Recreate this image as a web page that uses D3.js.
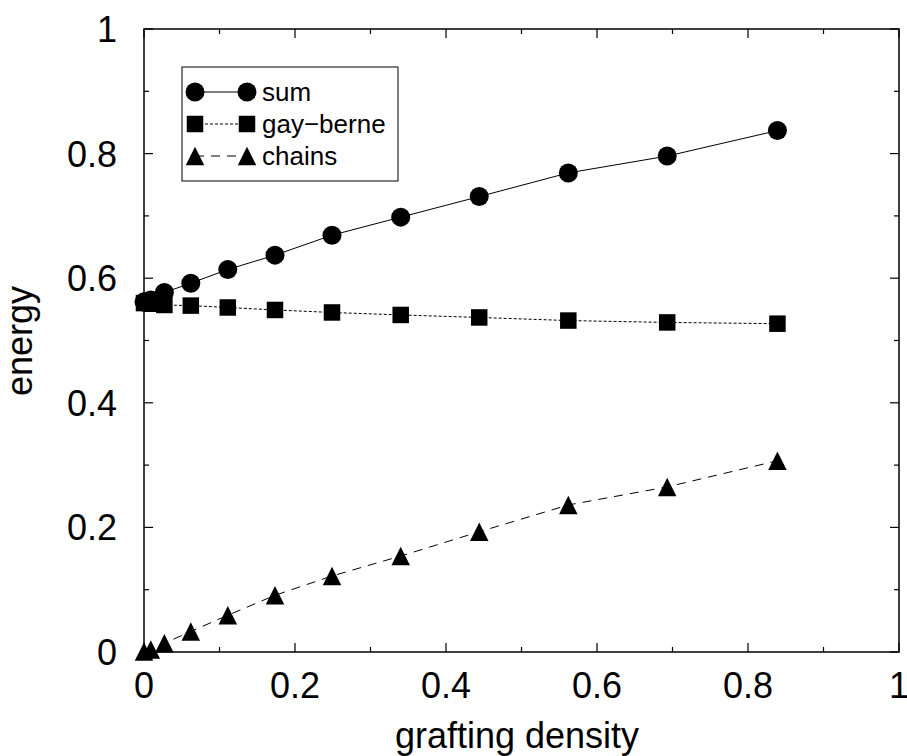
<!DOCTYPE html>
<html>
<head>
<meta charset="utf-8">
<script src="https://cdn.jsdelivr.net/npm/d3@7"></script>
<style>
  body { margin: 0; background: #fff; }
  svg { display: block; font-family: "Liberation Sans", Arial, sans-serif; }
</style>
</head>
<body>
<svg id="chart" width="907" height="756"></svg>
<script>
// grafting density (x) and energies
var density = [0, 0.009, 0.027, 0.062, 0.111, 0.1735, 0.249, 0.340, 0.444, 0.562, 0.693, 0.839];
var sumE = [0.562, 0.565, 0.577, 0.592, 0.614, 0.637, 0.669, 0.698, 0.731, 0.769, 0.796, 0.837];
var gayBerne = [0.560, 0.559, 0.557, 0.556, 0.553, 0.549, 0.545, 0.541, 0.537, 0.532, 0.529, 0.527];
var chains = [0.001, 0.004, 0.014, 0.033, 0.059, 0.091, 0.122, 0.154, 0.193, 0.236, 0.265, 0.307];
var majorTicks = [0, 0.2, 0.4, 0.6, 0.8, 1];
var minorTicks = [0.1, 0.3, 0.5, 0.7, 0.9];
var seriesNames = ["sum", "gay\u2212berne", "chains"];

var svg = d3.select("#chart");
var pLeft = 144, pRight = 899, pTop = 29, pBottom = 652;

var x = d3.scaleLinear().domain([0, 1]).range([pLeft, pRight]);
var y = d3.scaleLinear().domain([0, 1]).range([pBottom, pTop]);

// triangle centred on its bounding box, like gnuplot's
var tri = {
  draw: function (ctx, size) {
    var h = Math.sqrt(size);
    ctx.moveTo(0, -h / 2);
    ctx.lineTo(h / 2, h / 2);
    ctx.lineTo(-h / 2, h / 2);
    ctx.closePath();
  }
};
var symbols = [
  d3.symbol().type(d3.symbolCircle).size(Math.PI * 9.5 * 9.5),
  d3.symbol().type(d3.symbolSquare).size(16.5 * 16.5),
  d3.symbol().type(tri).size(18.5 * 18.5)
];
var dashes = [null, "3,2", "9,7"];
var series = [sumE, gayBerne, chains];

// frame
svg.append("rect")
  .attr("x", pLeft).attr("y", pTop)
  .attr("width", pRight - pLeft).attr("height", pBottom - pTop)
  .attr("fill", "none").attr("stroke", "#000").attr("stroke-width", 1.5);

// ticks on all four sides, pointing inwards
var tickG = svg.append("g").attr("stroke", "#000").attr("stroke-width", 1.2);
[[majorTicks, 9], [minorTicks, 5]].forEach(function (t) {
  t[0].forEach(function (v) {
    tickG.append("line").attr("x1", x(v)).attr("x2", x(v)).attr("y1", pBottom).attr("y2", pBottom - t[1]);
    tickG.append("line").attr("x1", x(v)).attr("x2", x(v)).attr("y1", pTop).attr("y2", pTop + t[1]);
    tickG.append("line").attr("y1", y(v)).attr("y2", y(v)).attr("x1", pLeft).attr("x2", pLeft + t[1]);
    tickG.append("line").attr("y1", y(v)).attr("y2", y(v)).attr("x1", pRight).attr("x2", pRight - t[1]);
  });
});

var fmt = function (v) { return v === 0 || v === 1 ? String(v) : d3.format(".1f")(v); };

svg.append("g").selectAll("text").data(majorTicks).join("text")
  .attr("x", function (d) { return x(d); })
  .attr("y", pBottom + 46)
  .attr("text-anchor", "middle")
  .attr("font-size", 36)
  .text(fmt);

svg.append("g").selectAll("text").data(majorTicks).join("text")
  .attr("x", pLeft - 27)
  .attr("y", function (d) { return y(d); })
  .attr("dy", "0.36em")
  .attr("text-anchor", "end")
  .attr("font-size", 36)
  .text(fmt);

svg.append("text")
  .attr("x", 517)
  .attr("y", 748)
  .attr("text-anchor", "middle")
  .attr("font-size", 36)
  .text("grafting density");

svg.append("text")
  .attr("transform", "translate(32,341) rotate(-90)")
  .attr("text-anchor", "middle")
  .attr("font-size", 36)
  .text("energy");

// lines then markers
var line = d3.line().x(function (d, i) { return x(density[i]); }).y(function (d) { return y(d); });
series.forEach(function (s, k) {
  svg.append("path")
    .attr("d", line(s))
    .attr("fill", "none")
    .attr("stroke", "#000")
    .attr("stroke-width", 1)
    .attr("stroke-dasharray", dashes[k]);
  svg.append("g").selectAll("path").data(s).join("path")
    .attr("transform", function (d, i) { return "translate(" + x(density[i]) + "," + y(d) + ")"; })
    .attr("d", symbols[k]());
});

// legend
var leg = svg.append("g");
leg.append("rect")
  .attr("x", 182).attr("y", 67).attr("width", 216).attr("height", 114)
  .attr("fill", "#fff").attr("stroke", "#000").attr("stroke-width", 1);
seriesNames.forEach(function (name, k) {
  var ly = 92 + k * 32;
  leg.append("line")
    .attr("x1", 195).attr("x2", 247).attr("y1", ly).attr("y2", ly)
    .attr("stroke", "#000").attr("stroke-width", 1)
    .attr("stroke-dasharray", dashes[k]);
  [195, 247].forEach(function (lx) {
    leg.append("path").attr("transform", "translate(" + lx + "," + ly + ")").attr("d", symbols[k]());
  });
  leg.append("text")
    .attr("x", 262).attr("y", ly).attr("dy", "0.36em")
    .attr("font-size", 26)
    .text(name);
});
</script>
</body>
</html>
